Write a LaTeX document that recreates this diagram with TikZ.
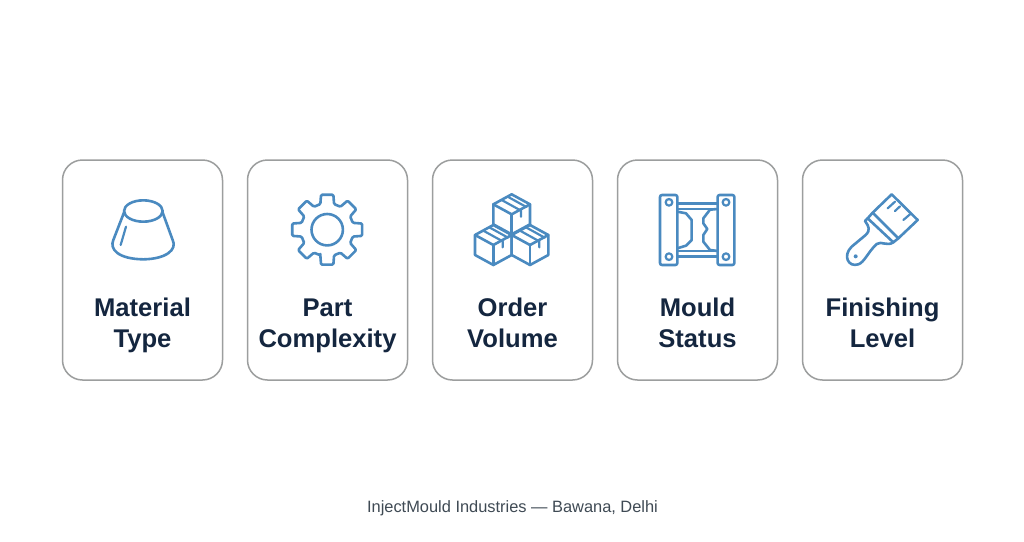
\documentclass[tikz,border=0pt]{standalone}
\usepackage{fontspec}
\setmainfont{Liberation Sans}
\definecolor{ink}{HTML}{14263F}
\definecolor{capt}{HTML}{3F4A54}
\definecolor{icon}{HTML}{4A8AC0}
\definecolor{edge}{HTML}{9C9E9E}
\tikzset{
  card/.style={draw=edge,line width=1.5pt,rounded corners=20pt,minimum width=160pt,minimum height=220pt,inner sep=0pt,fill=white},
  lab/.style={text=ink,font=\fontsize{25.6}{30}\selectfont\bfseries,align=center,inner sep=0pt,anchor=base},
  ic/.style={draw=icon,line width=2.6pt,line join=round,line cap=round},
  zoomed/.style={x=0.3333pt,y=-0.3333pt}
}
\newcommand{\tapes}{%
  \draw[ic,line width=2.2pt] (-30,-75) -- (28,-43) -- (28,-25);
  \draw[ic,line width=2.2pt] (-12,-85) -- (44,-54);
}
\newcommand{\onebox}{%
  \draw[ic] (0,0) -- (55,30) -- (55,90) -- (0,120) -- (-55,90) -- (-55,30) -- cycle;
  \draw[ic] (-55,30) -- (0,60) -- (55,30);
  \draw[ic] (0,60) -- (0,120);
}
\begin{document}
\begin{tikzpicture}[x=1pt,y=-1pt]
\useasboundingbox (0,0) rectangle (1024,541);
\fill[white] (0,0) rectangle (1024,541);
\node[card] (c1) at (142.5,270) {};
\node[card] (c2) at (327.5,270) {};
\node[card] (c3) at (512.5,270) {};
\node[card] (c4) at (697.5,270) {};
\node[card] (c5) at (882.5,270) {};
\node[lab] (l1a) at (142.5,316.5) {Material};
\node[lab] (l1b) at (142.5,347.5) {Type};
\node[lab] (l2a) at (327.5,316.5) {Part};
\node[lab] (l2b) at (327.5,347.5) {Complexity};
\node[lab] (l3a) at (512.5,316.5) {Order};
\node[lab] (l3b) at (512.5,347.5) {Volume};
\node[lab] (l4a) at (697.5,316.5) {Mould};
\node[lab] (l4b) at (697.5,347.5) {Status};
\node[lab] (l5a) at (882.5,316.5) {Finishing};
\node[lab] (l5b) at (882.5,347.5) {Level};
\node[text=capt,font=\fontsize{16.4}{18}\selectfont,inner sep=0pt,anchor=base] (cap) at (512.5,512) {InjectMould Industries — Bawana, Delhi};
% cone
\begin{scope}[shift={(100,190)},zoomed]
\draw[ic] (130,63) ellipse [x radius=58,y radius=32];
\draw[ic] (73,65) -- (40,150) .. controls (28,178) and (55,207) .. (130,208) .. controls (200,207) and (232,178) .. (218,150) -- (187,65);
\draw[ic,line width=2.2pt] (78,110) -- (62,165);
\end{scope}
% gear
\begin{scope}[shift={(327.2,229.7)}]
\draw[ic,rounded corners=1.2pt] (105:26.5)
  \foreach \a in {90,45,0,-45,-90,-135,-180,-225} {
    -- ({\a+15}:26.5) -- ({\a+10}:35.5) -- ({\a-10}:35.5) -- ({\a-15}:26.5)
  } -- cycle;
\draw[ic] (0,0) circle (15.7);
\end{scope}
% boxes
\begin{scope}[shift={(465,185)},zoomed]
\begin{scope}[shift={(140,28)}]\onebox\end{scope}
\begin{scope}[shift={(85,120)}]\onebox\end{scope}
\begin{scope}[shift={(195,120)}]\onebox\end{scope}
\begin{scope}[shift={(140,120)}]\tapes\end{scope}
\begin{scope}[shift={(85,212)}]\tapes\end{scope}
\begin{scope}[shift={(195,212)}]\tapes\end{scope}
\end{scope}
% mould
\begin{scope}[shift={(650,185)},zoomed]
\draw[ic,rounded corners=2pt] (30,30) rectangle (82,240);
\draw[ic,rounded corners=2pt] (203,30) rectangle (253,240);
\draw[ic,line width=2.2pt] (57,52) circle (10) (57,215) circle (10) (228,52) circle (10) (228,215) circle (10);
\draw[ic] (82,55) -- (203,55) (82,72) -- (203,72) (82,198) -- (203,198) (82,215) -- (203,215);
\draw[ic] (82,80) -- (108,85) -- (125,105) -- (125,165) -- (108,182) -- (82,190);
\draw[ic] (203,72) -- (180,74) -- (160,100) -- (160,115) -- (172,132) -- (160,150) -- (160,170) -- (180,195) -- (203,198);
\end{scope}
% brush
\begin{scope}[shift={(835,185)},zoomed]
\draw[ic] (170,28) -- (248,105) -- (190,160) -- (113,83) -- cycle;
\draw[ic] (113,83) -- (98,100) -- (175,172) -- (190,160);
\draw[ic] (98,100) -- (90,108) .. controls (102,125) and (107,135) .. (92,150) -- (50,185) .. controls (22,212) and (40,248) .. (70,238) .. controls (88,232) and (100,200) .. (125,177) .. controls (140,167) and (155,185) .. (175,172);
\fill[icon] (62,214) circle (6);
\draw[ic,line width=2.2pt] (158,70) -- (180,50) (180,78) -- (195,64) (205,105) -- (225,88);
\end{scope}
\end{tikzpicture}
\end{document}
